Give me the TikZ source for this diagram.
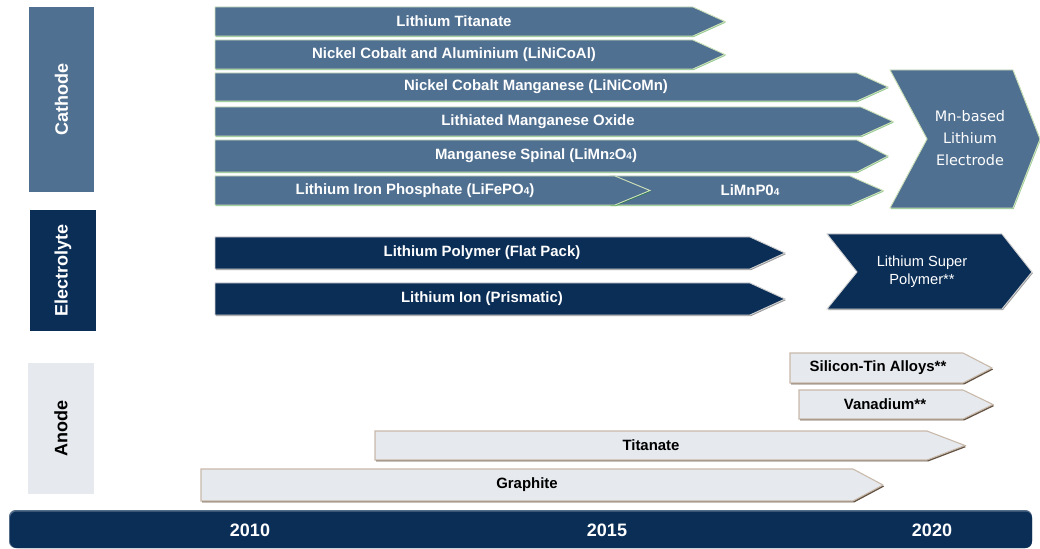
\documentclass[tikz,border=0pt]{standalone}
\usepackage{fontspec}
\setmainfont{Liberation Sans}
\newfontfamily\verdfont{DejaVu Sans}
\usetikzlibrary{shadows}
\definecolor{slate}{RGB}{80,112,145}
\definecolor{navy}{RGB}{11,46,87}
\definecolor{paleg}{RGB}{230,233,238}
\definecolor{leaf}{RGB}{205,225,185}
\definecolor{sand}{RGB}{200,185,170}
\newcommand{\sm}[1]{{\fontsize{7.5}{8}\selectfont #1}}

\begin{document}
\begin{tikzpicture}[x=0.75pt,y=-0.75pt,
  catbar/.style={fill=slate,draw=leaf,line width=0.7pt,
    drop shadow={shadow xshift=0.5pt,shadow yshift=-0.8pt,fill=black!50!green,opacity=0.45}},
  elecbar/.style={fill=navy,draw=gray!35,line width=0.7pt,
    drop shadow={shadow xshift=0.6pt,shadow yshift=-0.9pt,fill=black,opacity=0.4}},
  anobar/.style={fill=paleg,draw=sand,line width=0.8pt,
    drop shadow={shadow xshift=0.9pt,shadow yshift=-1.1pt,fill=black!70!brown,opacity=0.8}},
  wtxt/.style={text=white,font=\bfseries\fontsize{11.2}{13}\selectfont,inner sep=0pt},
  btxt/.style={text=black,font=\bfseries\fontsize{11.2}{13}\selectfont,inner sep=0pt},
  sidebox/.style={rotate=90,minimum width=#1,minimum height=49pt,inner sep=0pt,
    font=\bfseries\fontsize{13.5}{15}\selectfont},
  year/.style={text=white,font=\bfseries\fontsize{13.5}{15}\selectfont,inner sep=0pt}]

\useasboundingbox (0,0) rectangle (1040,549);

% side labels
\node[sidebox=139pt,fill=slate,text=white] (cath) at (61.5,99.5) {Cathode};
\node[sidebox=91pt,fill=navy,text=white] (elec) at (63,270.5) {Electrolyte};
\node[sidebox=98pt,fill=paleg,text=black] (anod) at (61,428.5) {Anode};

% cathode
\draw[catbar] (215,7)--(693,7)--(725,21.5)--(693,36)--(215,36)--cycle;
\node[wtxt] (c1) at (454,21.5) {Lithium Titanate};

\draw[catbar] (215,40)--(693,40)--(725,54.5)--(693,69)--(215,69)--cycle;
\node[wtxt] (c2) at (454,54.5) {Nickel Cobalt and Aluminium (LiNiCoAl)};

\draw[catbar] (215,73)--(857,73)--(888,87)--(857,101)--(215,101)--cycle;
\node[wtxt] (c3) at (536,87) {Nickel Cobalt Manganese (LiNiCoMn)};

\draw[catbar] (215,107)--(861,107)--(893,121.5)--(861,136)--(215,136)--cycle;
\node[wtxt] (c4) at (538,121.5) {Lithiated Manganese Oxide};

\draw[catbar] (215,140)--(857,140)--(888,156)--(857,172)--(215,172)--cycle;
\node[wtxt] (c5) at (536,156) {Manganese Spinal (LiMn\sm{2}O\sm{4})};

\draw[catbar] (610,176)--(850,176)--(883,190.5)--(850,205)--(610,205)--cycle;
\node[wtxt] (c7) at (750,190.5) {LiMnP0\sm{4}};
\draw[catbar] (215,176)--(615,176)--(650,190.5)--(615,205)--(215,205)--cycle;
\node[wtxt] (c6) at (415,190.5) {Lithium Iron Phosphate (LiFePO\sm{4})};

\draw[catbar] (890,70)--(1013,70)--(1040,139)--(1013,208)--(890,208)--(927,139)--cycle;
\node[text=white,font=\verdfont\fontsize{10.8}{16.5}\selectfont,align=center,inner sep=0pt]
  (mn) at (970,138) {Mn-based\\Lithium\\Electrode};

% electrolyte
\draw[elecbar] (215,237)--(750,237)--(785,253)--(750,269)--(215,269)--cycle;
\node[wtxt] (e1) at (482,253) {Lithium Polymer (Flat Pack)};

\draw[elecbar] (215,283)--(750,283)--(785,299)--(750,315)--(215,315)--cycle;
\node[wtxt] (e2) at (482,299) {Lithium Ion (Prismatic)};

\draw[elecbar] (827,234)--(1002,234)--(1032,272)--(1002,309)--(827,309)--(857,272)--cycle;
\node[text=white,font=\fontsize{11}{13.5}\selectfont,align=center,inner sep=0pt]
  (e3) at (922,272) {Lithium Super\\Polymer**};

% anode
\draw[anobar] (790,353)--(963,353)--(992,368)--(963,383)--(790,383)--cycle;
\node[btxt] (a1) at (878,368) {Silicon-Tin Alloys**};

\draw[anobar] (799,390)--(963,390)--(993,404.5)--(963,419)--(799,419)--cycle;
\node[btxt] (a2) at (885,404.5) {Vanadium**};

\draw[anobar] (375,431)--(927,431)--(965,445.5)--(927,460)--(375,460)--cycle;
\node[btxt] (a3) at (651,445.5) {Titanate};

\draw[anobar] (201,469)--(853,469)--(883,485)--(853,501)--(201,501)--cycle;
\node[btxt] (a4) at (527,485) {Graphite};

% time line
\fill[navy!70!white,rounded corners=5pt] (9,510) rectangle (1032,548);
\fill[navy,rounded corners=5pt] (10,511.5) rectangle (1032,548);
\node[year] (y1) at (250,530) {2010};
\node[year] (y2) at (607,530) {2015};
\node[year] (y3) at (932,530) {2020};

\end{tikzpicture}
\end{document}
